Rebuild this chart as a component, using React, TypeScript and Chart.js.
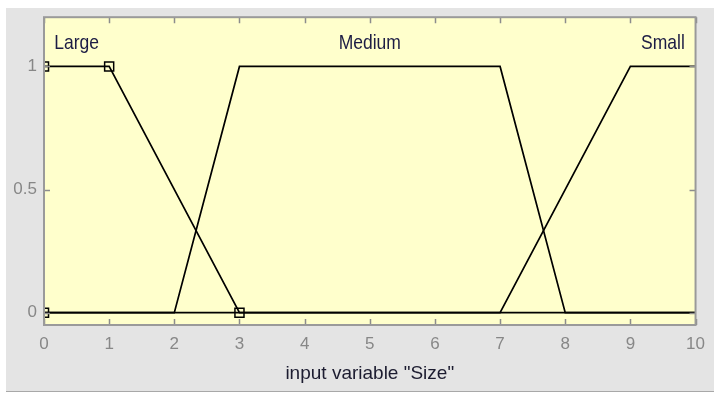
import React, { useEffect, useRef } from "react";
import { Chart, registerables } from "chart.js";

Chart.register(...registerables);

// Input variable "Size", universe of discourse 0..10
const xTicks = [0, 1, 2, 3, 4, 5, 6, 7, 8, 9, 10];
const yTicks = [0, 0.5, 1];
const yTickLabels = ["0", "0.5", "1"];

// Membership functions (trapezoids) sampled at their breakpoints
const mfNames = ["Large", "Medium", "Small"];
const largeX = [0, 1, 3, 10];
const largeY = [1, 1, 0, 0];
const mediumX = [0, 2, 3, 7, 8, 10];
const mediumY = [0, 0, 1, 1, 0, 0];
const smallX = [0, 7, 9, 10];
const smallY = [0, 0, 1, 1];

// Parameter handles of the selected function (Large = trapmf [0 0 1 3])
const handleX = [0, 0, 1, 3];
const handleY = [0, 1, 1, 0];

const FONT = "'Liberation Sans', Arial, sans-serif";

const toPoints = (xs: number[], ys: number[]) => xs.map((x, i) => ({ x, y: ys[i] }));

const mfSeries = [
  { name: mfNames[0], pts: toPoints(largeX, largeY) },
  { name: mfNames[1], pts: toPoints(mediumX, mediumY) },
  { name: mfNames[2], pts: toPoints(smallX, smallY) },
];

// Centre of each function's plateau, where its name is written
const plateauCentre = (pts: { x: number; y: number }[]) => {
  const top = pts.filter((p) => p.y === 1).map((p) => p.x);
  return (Math.min(...top) + Math.max(...top)) / 2;
};

const framePlugin = {
  id: "frame",
  beforeDraw(chart: any) {
    const { ctx, width, height, chartArea: a } = chart;
    ctx.save();
    ctx.fillStyle = "#ffffff";
    ctx.fillRect(0, 0, width, height);
    ctx.fillStyle = "#e4e4e4";
    ctx.fillRect(6, 8, width - 6, 383);
    ctx.fillStyle = "#a8a8a8";
    ctx.fillRect(6, 391, width - 6, 1);
    ctx.fillStyle = "#ffffcc";
    ctx.fillRect(a.left, a.top, a.right - a.left, a.bottom - a.top);
    ctx.restore();
  },
  afterDatasetsDraw(chart: any) {
    const { ctx, chartArea: a, scales } = chart;
    const xs = scales.x;
    const ys = scales.y;
    ctx.save();
    // function names, slightly tall like the axis lettering
    ctx.fillStyle = "#1c1c44";
    ctx.font = `17px ${FONT}`;
    ctx.textAlign = "center";
    ctx.textBaseline = "alphabetic";
    mfSeries.forEach((s) => {
      const px = xs.getPixelForValue(plateauCentre(s.pts));
      const py = ys.getPixelForValue(1.07);
      ctx.save();
      ctx.translate(px, py);
      ctx.scale(1.03, 1.15);
      ctx.fillText(s.name, 0, 0);
      ctx.restore();
    });
    // inward tick marks
    ctx.strokeStyle = "#8c8c8c";
    ctx.lineWidth = 1.5;
    ctx.beginPath();
    xTicks.forEach((v) => {
      const px = Math.round(xs.getPixelForValue(v)) + 0.5;
      ctx.moveTo(px, a.bottom);
      ctx.lineTo(px, a.bottom - 6);
      ctx.moveTo(px, a.top);
      ctx.lineTo(px, a.top + 6);
    });
    yTicks.forEach((v) => {
      const py = Math.round(ys.getPixelForValue(v)) + 0.5;
      ctx.moveTo(a.left, py);
      ctx.lineTo(a.left + 6, py);
      ctx.moveTo(a.right, py);
      ctx.lineTo(a.right - 6, py);
    });
    ctx.stroke();
    // axes box
    ctx.strokeStyle = "#9a9a9a";
    ctx.lineWidth = 2;
    ctx.strokeRect(a.left, a.top, a.right - a.left, a.bottom - a.top);
    ctx.restore();
  },
};

export default function App() {
  const canvasRef = useRef<HTMLCanvasElement | null>(null);

  useEffect(() => {
    if (!canvasRef.current) return;
    const lineDatasets = mfSeries.map((s) => ({
      label: s.name,
      data: s.pts,
      showLine: true,
      borderColor: "#000000",
      borderWidth: 1.7,
      pointRadius: 0,
      fill: false,
      tension: 0,
    }));
    const chart = new Chart(canvasRef.current, {
      type: "scatter",
      data: {
        datasets: [
          ...lineDatasets,
          {
            label: "handles",
            data: toPoints(handleX, handleY),
            showLine: false,
            pointStyle: "rect",
            pointRadius: 6.4,
            pointBorderWidth: 1.5,
            pointBorderColor: "#000000",
            pointBackgroundColor: "rgba(0,0,0,0)",
            clip: 0,
          } as any,
        ],
      },
      options: {
        animation: false,
        responsive: false,
        devicePixelRatio: 1,
        layout: { padding: { left: 0, top: 10, right: 16, bottom: 8 } },
        plugins: { legend: { display: false }, tooltip: { enabled: false } },
        scales: {
          x: {
            type: "linear",
            min: 0,
            max: 10,
            grid: { display: false, drawTicks: false },
            border: { display: false },
            afterBuildTicks: (s: any) => {
              s.ticks = xTicks.map((v) => ({ value: v }));
            },
            afterFit: (s: any) => {
              s.height = 60;
            },
            ticks: {
              color: "#878787",
              padding: 9,
              maxRotation: 0,
              autoSkip: false,
              font: { family: FONT, size: 17 },
            },
            title: {
              display: true,
              text: 'input variable "Size"',
              color: "#1c1c30",
              font: { family: FONT, size: 19 },
              padding: { top: 0, bottom: 0 },
            },
          },
          y: {
            type: "linear",
            min: -0.05,
            max: 1.2,
            grid: { display: false, drawTicks: false },
            border: { display: false },
            afterBuildTicks: (s: any) => {
              s.ticks = yTicks.map((v) => ({ value: v }));
            },
            afterFit: (s: any) => {
              s.width = 44;
            },
            ticks: {
              color: "#878787",
              padding: 7,
              font: { family: FONT, size: 17 },
              callback: (_v: any, i: number) => yTickLabels[i],
            },
          },
        },
      },
      plugins: [framePlugin],
    });
    return () => chart.destroy();
  }, []);

  return (
    <div style={{ position: "fixed", left: 0, top: 0, width: 714, height: 393 }}>
      <canvas ref={canvasRef} width={714} height={393} style={{ display: "block" }} />
    </div>
  );
}
